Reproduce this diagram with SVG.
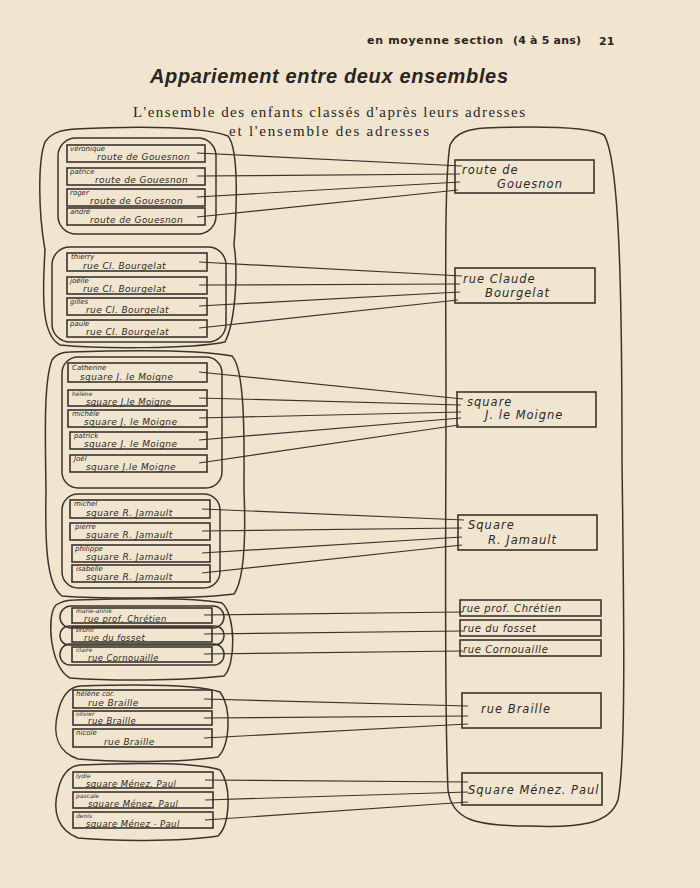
<svg xmlns="http://www.w3.org/2000/svg" width="700" height="888" viewBox="0 0 700 888">
<style>
.bg{fill:#f1e5cf}
.blob{fill:none;stroke:#3a342e;stroke-width:1.5}
.box{fill:none;stroke:#3a342e;stroke-width:1.6}
.con{fill:none;stroke:#3a342e;stroke-width:1.2}
.nm{font-family:"DejaVu Sans",sans-serif;font-style:italic;font-size:7px;fill:#2e2925}
.ns{font-family:"DejaVu Sans",sans-serif;font-style:italic;font-size:6px;fill:#2e2925}
.ad{font-family:"DejaVu Sans",sans-serif;font-style:italic;font-size:9px;fill:#2e2925;letter-spacing:0.4px}
.as{font-family:"DejaVu Sans",sans-serif;font-style:italic;font-size:8.5px;fill:#2e2925;letter-spacing:0.4px}
.rt{font-family:"DejaVu Sans",sans-serif;font-style:italic;font-size:11.5px;fill:#2e2925;letter-spacing:1px}
.rs{font-family:"DejaVu Sans",sans-serif;font-style:italic;font-size:10px;fill:#2e2925;letter-spacing:0.6px}
.hd{font-family:"DejaVu Sans",sans-serif;font-weight:bold;font-size:11px;fill:#2a2522}
.title{font-family:"Liberation Sans",Arial,sans-serif;font-weight:bold;font-style:italic;font-size:20px;fill:#2a2522}
.sub{font-family:"Liberation Serif","Times New Roman",serif;font-size:15px;fill:#2a2522}
</style>
<rect class="bg" x="0" y="0" width="700" height="888"/>
<g id="header">
<text class="hd" x="367" y="44" textLength="136">en moyenne section</text>
<text class="hd" x="513" y="44" font-size="10" textLength="68">(4 à 5 ans)</text>
<text class="hd" x="599" y="45" font-size="19">21</text>
</g>
<g id="titles">
<text class="title" x="150" y="83" textLength="358">Appariement entre deux ensembles</text>
<text class="sub" x="133" y="117" textLength="392">L'ensemble des enfants classés d'après leurs adresses</text>
<text class="sub" x="229" y="136" textLength="200">et l'ensemble des adresses</text>
</g>

<g id="blobs">
<path class="blob" d="M75,129 C140,126 200,126 228,136 C240,150 236,220 234,245 C238,270 236,320 225,342 C190,349 100,349 60,345 C42,335 42,300 45,250 C38,210 38,160 45,142 C52,132 62,130 75,129 Z"/>
<rect class="blob" x="58" y="138" width="158" height="96" rx="18"/>
<rect class="blob" x="52" y="247" width="174" height="95" rx="18"/>
<path class="blob" d="M70,352 C130,350 200,350 232,356 C246,370 244,450 244,490 C246,540 244,580 234,594 C200,599 100,599 62,596 C46,585 45,540 46,490 C45,430 44,380 52,360 C56,354 62,352 70,352 Z"/>
<rect class="blob" x="62" y="357" width="160" height="131" rx="16"/>
<rect class="blob" x="62" y="494" width="158" height="94" rx="16"/>
<path class="blob" d="M75,600 C140,598 200,598 222,603 C236,615 236,665 224,676 C180,681 110,681 70,678 C50,668 46,615 56,605 C62,601 68,600 75,600 Z"/>
<rect class="blob" x="60" y="606" width="164" height="22" rx="11"/>
<rect class="blob" x="60" y="626" width="164" height="19" rx="9"/>
<rect class="blob" x="60" y="644" width="164" height="21" rx="10"/>
<path class="blob" d="M80,686 C140,684 200,685 220,692 C232,708 230,745 218,757 C180,763 110,762 78,759 C58,752 52,735 58,712 C62,695 70,687 80,686 Z"/>
<path class="blob" d="M80,765 C140,762 200,763 220,770 C232,786 230,825 218,836 C180,842 110,841 78,838 C58,830 52,812 58,790 C62,773 70,766 80,765 Z"/>
<path class="blob" d="M485,128 C540,126 590,127 604,135 C620,160 622,300 622,460 C624,620 626,760 618,800 C610,824 580,828 530,826 C475,826 452,820 448,790 C444,700 446,520 446,400 C446,300 444,180 450,145 C456,132 470,129 485,128 Z"/>
</g>

<g id="connectors">
<line class="con" x1="197" y1="153" x2="462" y2="166"/>
<line class="con" x1="197" y1="176" x2="460" y2="174"/>
<line class="con" x1="197" y1="197" x2="460" y2="182"/>
<line class="con" x1="197" y1="217" x2="458" y2="190"/>
<line class="con" x1="199" y1="262" x2="462" y2="276"/>
<line class="con" x1="199" y1="285" x2="460" y2="284"/>
<line class="con" x1="199" y1="306" x2="460" y2="292"/>
<line class="con" x1="199" y1="328" x2="458" y2="300"/>
<line class="con" x1="199" y1="372" x2="463" y2="399"/>
<line class="con" x1="199" y1="398" x2="461" y2="405"/>
<line class="con" x1="199" y1="418" x2="461" y2="412"/>
<line class="con" x1="199" y1="440" x2="461" y2="418"/>
<line class="con" x1="199" y1="463" x2="459" y2="425"/>
<line class="con" x1="202" y1="509" x2="464" y2="520"/>
<line class="con" x1="202" y1="531" x2="462" y2="528"/>
<line class="con" x1="202" y1="553" x2="462" y2="537"/>
<line class="con" x1="202" y1="573" x2="462" y2="545"/>
<line class="con" x1="204" y1="615" x2="463" y2="612"/>
<line class="con" x1="204" y1="634" x2="463" y2="631"/>
<line class="con" x1="204" y1="654" x2="463" y2="651"/>
<line class="con" x1="204" y1="699" x2="468" y2="706"/>
<line class="con" x1="204" y1="718" x2="468" y2="716"/>
<line class="con" x1="204" y1="738" x2="468" y2="724"/>
<line class="con" x1="205" y1="780" x2="468" y2="782"/>
<line class="con" x1="205" y1="800" x2="468" y2="792"/>
<line class="con" x1="205" y1="820" x2="468" y2="802"/>
</g>

<g id="c-veronique"><rect class="box" x="67" y="145" width="138" height="17"/><text class="nm" x="70" y="151">véronique</text><text class="ad" x="97" y="160">route de Gouesnon</text></g>
<g id="c-patrice"><rect class="box" x="67" y="168" width="138" height="17"/><text class="nm" x="70" y="174">patrice</text><text class="ad" x="95" y="183">route de Gouesnon</text></g>
<g id="c-roger"><rect class="box" x="67" y="189" width="138" height="17"/><text class="nm" x="70" y="195">roger</text><text class="ad" x="90" y="204">route de Gouesnon</text></g>
<g id="c-andre"><rect class="box" x="67" y="208" width="138" height="17"/><text class="nm" x="70" y="214">andré</text><text class="ad" x="90" y="223">route de Gouesnon</text></g>

<g id="c-thierry"><rect class="box" x="67" y="253" width="140" height="18"/><text class="nm" x="71" y="259">thierry</text><text class="ad" x="83" y="269">rue Cl. Bourgelat</text></g>
<g id="c-joelle"><rect class="box" x="67" y="277" width="140" height="17"/><text class="nm" x="70" y="283">joëlle</text><text class="ad" x="83" y="292">rue Cl. Bourgelat</text></g>
<g id="c-gilles"><rect class="box" x="67" y="298" width="140" height="17"/><text class="nm" x="70" y="304">gilles</text><text class="ad" x="86" y="313">rue Cl. Bourgelat</text></g>
<g id="c-paule"><rect class="box" x="67" y="320" width="140" height="17"/><text class="nm" x="70" y="326">paule</text><text class="ad" x="86" y="335">rue Cl. Bourgelat</text></g>

<g id="c-catherine"><rect class="box" x="68" y="363" width="139" height="19"/><text class="nm" x="72" y="370">Catherine</text><text class="ad" x="80" y="380">square J. le Moigne</text></g>
<g id="c-helene"><rect class="box" x="68" y="390" width="139" height="16"/><text class="ns" x="72" y="395.5">hélène</text><text class="as" x="86" y="404.5">square J.le Moigne</text></g>
<g id="c-michele"><rect class="box" x="68" y="410" width="139" height="17"/><text class="nm" x="72" y="416">michèle</text><text class="ad" x="84" y="425">square J. le Moigne</text></g>
<g id="c-patrick"><rect class="box" x="70" y="432" width="137" height="17"/><text class="nm" x="74" y="438">patrick</text><text class="ad" x="84" y="447">square J. le Moigne</text></g>
<g id="c-joel"><rect class="box" x="70" y="455" width="137" height="17"/><text class="nm" x="74" y="461">Joël</text><text class="ad" x="86" y="470">square J.le Moigne</text></g>

<g id="c-michel"><rect class="box" x="70" y="500" width="140" height="18"/><text class="nm" x="74" y="506">michel</text><text class="ad" x="86" y="516">square R. Jamault</text></g>
<g id="c-pierre"><rect class="box" x="70" y="523" width="140" height="17"/><text class="nm" x="75" y="529">pierre</text><text class="ad" x="86" y="538">square R. Jamault</text></g>
<g id="c-philippe"><rect class="box" x="72" y="545" width="138" height="17"/><text class="nm" x="75" y="551">philippe</text><text class="ad" x="86" y="560">square R. Jamault</text></g>
<g id="c-isabelle"><rect class="box" x="72" y="565" width="138" height="17"/><text class="nm" x="76" y="571">isabelle</text><text class="ad" x="86" y="580">square R. Jamault</text></g>

<g id="c-marie-annik"><rect class="box" x="72" y="608" width="140" height="15"/><text class="ns" x="76" y="613">marie-annik</text><text class="as" x="84" y="621.5">rue prof. Chrétien</text></g>
<g id="c-bruno"><rect class="box" x="72" y="627" width="140" height="15"/><text class="ns" x="76" y="632">bruno</text><text class="as" x="84" y="640.5">rue du fosset</text></g>
<g id="c-claire"><rect class="box" x="72" y="647" width="140" height="15"/><text class="ns" x="76" y="652">claire</text><text class="as" x="88" y="660.5">rue Cornouaille</text></g>

<g id="c-helene-cor"><rect class="box" x="73" y="690" width="139" height="18"/><text class="nm" x="76" y="696">hélène cor.</text><text class="ad" x="88" y="706">rue Braille</text></g>
<g id="c-olivier"><rect class="box" x="73" y="711" width="139" height="14"/><text class="ns" x="76" y="716">olivier</text><text class="as" x="88" y="724">rue Braille</text></g>
<g id="c-nicole"><rect class="box" x="73" y="729" width="139" height="18"/><text class="nm" x="76" y="735">nicole</text><text class="ad" x="104" y="745">rue Braille</text></g>

<g id="c-lydie"><rect class="box" x="73" y="772" width="140" height="16"/><text class="ns" x="76" y="777.5">lydie</text><text class="as" x="86" y="786.5">square Ménez. Paul</text></g>
<g id="c-pascale"><rect class="box" x="73" y="792" width="140" height="16"/><text class="ns" x="76" y="797.5">pascale</text><text class="as" x="88" y="806.5">square Ménez. Paul</text></g>
<g id="c-denis"><rect class="box" x="73" y="812" width="140" height="16"/><text class="ns" x="76" y="817.5">denis</text><text class="as" x="86" y="826.5">square Ménez - Paul</text></g>

<g id="a-gouesnon"><rect class="box" x="455" y="160" width="139" height="33"/><text class="rt" x="462" y="174">route de</text><text class="rt" x="497" y="188">Gouesnon</text></g>
<g id="a-bourgelat"><rect class="box" x="455" y="268" width="140" height="35"/><text class="rt" x="463" y="283">rue   Claude</text><text class="rt" x="485" y="297">Bourgelat</text></g>
<g id="a-moigne"><rect class="box" x="457" y="392" width="139" height="35"/><text class="rt" x="467" y="406">square</text><text class="rt" x="485" y="419">J. le Moigne</text></g>
<g id="a-jamault"><rect class="box" x="458" y="515" width="139" height="35"/><text class="rt" x="468" y="529">Square</text><text class="rt" x="488" y="544">R. Jamault</text></g>
<g id="a-chretien"><rect class="box" x="460" y="600" width="141" height="16"/><text class="rs" x="462" y="612" letter-spacing="0">rue prof. Chrétien</text></g>
<g id="a-fosset"><rect class="box" x="460" y="620" width="141" height="16"/><text class="rs" x="463" y="632">rue du  fosset</text></g>
<g id="a-cornouaille"><rect class="box" x="460" y="640" width="141" height="16"/><text class="rs" x="463" y="653">rue  Cornouaille</text></g>
<g id="a-braille"><rect class="box" x="462" y="693" width="139" height="35"/><text class="rt" x="481" y="713">rue  Braille</text></g>
<g id="a-menez"><rect class="box" x="462" y="773" width="140" height="32"/><text class="rt" x="468" y="794" letter-spacing="0.3">Square Ménez. Paul</text></g>
</svg>
